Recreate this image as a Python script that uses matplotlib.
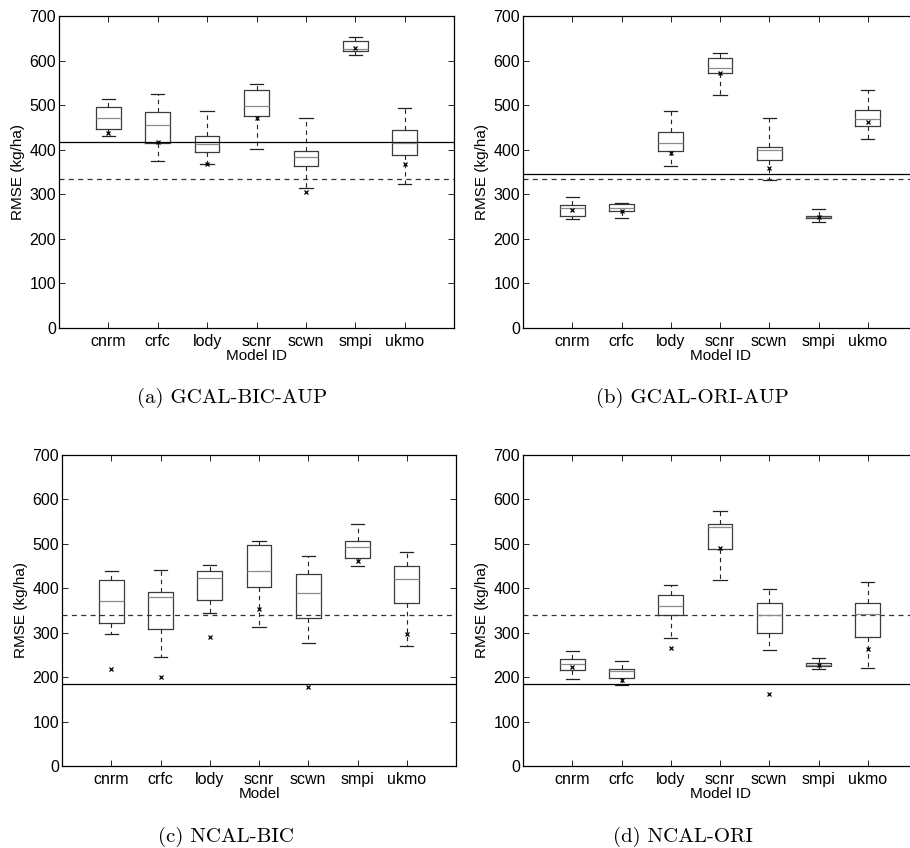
import matplotlib.pyplot as plt

plt.rcParams["font.family"] = ["Liberation Sans", "DejaVu Sans"]

models = ["cnrm", "crfc", "lody", "scnr", "scwn", "smpi", "ukmo"]
yticks = [0, 100, 200, 300, 400, 500, 600, 700]

# (a) GCAL-BIC-AUP
a_lo = [431, 374, 368, 401, 314, 612, 323]
a_q1 = [446, 414, 395, 475, 364, 622, 389]
a_med = [471, 455, 413, 497, 383, 625, 415]
a_q3 = [495, 484, 430, 533, 397, 643, 445]
a_hi = [514, 524, 486, 548, 471, 653, 494]
a_mean = [437, 418, 367, 471, 306, 629, 368]
a_solid, a_dash = 417, 334

# (b) GCAL-ORI-AUP
b_lo = [245, 247, 364, 522, 333, 238, 424]
b_q1 = [252, 262, 398, 572, 377, 246, 454]
b_med = [269, 270, 415, 584, 399, 249, 468]
b_q3 = [276, 279, 439, 605, 407, 252, 490]
b_hi = [295, 280, 487, 618, 472, 267, 534]
b_mean = [264, 262, 393, 572, 358, 249, 462]
b_solid, b_dash = 346, 334

# (c) NCAL-BIC
c_lo = [297, 246, 345, 312, 277, 451, 270]
c_q1 = [322, 309, 373, 403, 332, 469, 367]
c_med = [372, 380, 424, 440, 390, 494, 421]
c_q3 = [418, 392, 438, 497, 433, 507, 451]
c_hi = [439, 441, 452, 506, 472, 544, 481]
c_mean = [219, 201, 291, 353, 178, 461, 296]
c_solid, c_dash = 184, 340

# (d) NCAL-ORI
d_lo = [195, 183, 288, 419, 262, 219, 220]
d_q1 = [216, 198, 340, 488, 299, 225, 291]
d_med = [230, 214, 361, 538, 340, 228, 341]
d_q3 = [241, 219, 384, 545, 367, 231, 367]
d_hi = [259, 237, 408, 575, 398, 242, 414]
d_mean = [222, 193, 266, 490, 162, 227, 263]
d_solid, d_dash = 184, 340

panels = [
    ("(a) GCAL-BIC-AUP", "Model ID", a_lo, a_q1, a_med, a_q3, a_hi, a_mean, a_solid, a_dash),
    ("(b) GCAL-ORI-AUP", "Model ID", b_lo, b_q1, b_med, b_q3, b_hi, b_mean, b_solid, b_dash),
    ("(c) NCAL-BIC", "Model", c_lo, c_q1, c_med, c_q3, c_hi, c_mean, c_solid, c_dash),
    ("(d) NCAL-ORI", "Model ID", d_lo, d_q1, d_med, d_q3, d_hi, d_mean, d_solid, d_dash),
]

W, H = 910, 848
# axes boxes in pixels: left, top, right, bottom
boxes = [(59, 16, 454, 328), (523, 16, 917, 328),
         (62, 455, 456, 766), (523, 455, 917, 766)]
caption_pos = [(232, 398), (692, 398), (226, 837), (683, 837)]

fig = plt.figure(figsize=(W / 100, H / 100), dpi=100)

for (cap, xlab, lo, q1, med, q3, hi, mean, solid, dash), bx, cp in zip(panels, boxes, caption_pos):
    l, t, r, b = bx
    ax = fig.add_axes([l / W, 1 - b / H, (r - l) / W, (b - t) / H])
    stats = []
    for i in range(len(models)):
        stats.append(dict(whislo=lo[i], q1=q1[i], med=med[i], q3=q3[i],
                          whishi=hi[i], mean=mean[i], fliers=[]))
    ax.bxp(stats, positions=range(1, len(models) + 1), widths=0.5,
           capwidths=0.27, showmeans=True, showfliers=False,
           boxprops=dict(color="#3c3c3c", lw=0.9),
           medianprops=dict(color="#8c8c8c", lw=0.9),
           whiskerprops=dict(color="#222222", lw=0.8, linestyle=(0, (4, 3.5))),
           capprops=dict(color="#222222", lw=0.9),
           meanprops=dict(marker="x", markersize=3.5, markeredgecolor="black",
                          markeredgewidth=0.9))
    ax.axhline(solid, color="black", lw=0.9)
    ax.axhline(dash, color="#333333", lw=0.9, linestyle=(0, (4, 3.5)))
    ax.set_xlim(0, 8)
    ax.set_ylim(0, 700)
    ax.set_yticks(yticks)
    ax.set_xticks(range(1, len(models) + 1))
    ax.set_xticklabels(models)
    ax.tick_params(direction="in", top=True, right=True, length=4, width=0.6,
                   labelsize=11.5, pad=4)
    ax.tick_params(axis="y", pad=2)
    for s in ax.spines.values():
        s.set_linewidth(0.9)
    ax.set_xlabel(xlab, fontsize=11, labelpad=0)
    ax.set_ylabel("RMSE (kg/ha)", fontsize=11, labelpad=3)
    fig.text(cp[0] / W, 1 - cp[1] / H, cap, family="cmr10", fontsize=15,
             ha="center", va="center")

fig.savefig("out.png", dpi=100)
